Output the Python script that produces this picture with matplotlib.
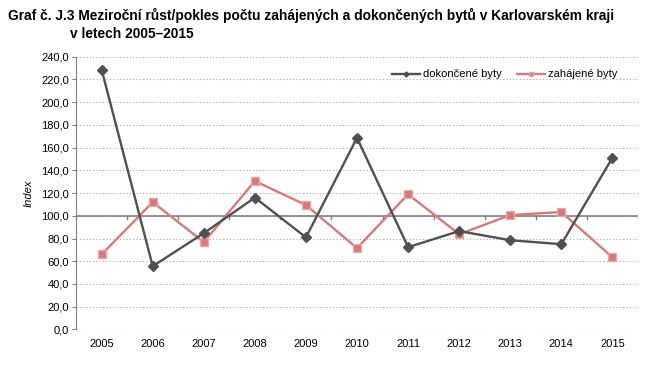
import matplotlib.pyplot as plt
from matplotlib.ticker import FuncFormatter

# Data
roky = ['2005', '2006', '2007', '2008', '2009', '2010',
        '2011', '2012', '2013', '2014', '2015']
dokoncene = [228.6, 55.6, 84.7, 116.0, 81.0, 168.6, 72.4, 86.5, 78.5, 75.0, 151.0]
zahajene = [66.0, 112.0, 76.8, 130.6, 109.4, 71.5, 119.0, 83.8, 100.6, 103.3, 63.5]

plt.rcParams['font.family'] = ['Liberation Sans', 'DejaVu Sans']

fig = plt.figure(figsize=(6.45, 3.66), dpi=100)
ax = fig.add_axes([0.118, 0.100, 0.871, 0.745])

x = list(range(len(roky)))
ax.plot(x, dokoncene, color='#505050', lw=1.7, marker='D', ms=5,
        label='dokončené byty', zorder=4)
ax.plot(x, zahajene, color='#d57a78', lw=1.7, marker='s', ms=6,
        markeredgecolor='#e8aaa8', markeredgewidth=1, label='zahájené byty', zorder=3)

ax.set_xlim(-0.5, 10.5)
ax.set_ylim(0, 240)
ax.set_yticks(range(0, 241, 20))
ax.yaxis.set_major_formatter(FuncFormatter(lambda v, p: f'{v:.1f}'.replace('.', ',')))
ax.grid(axis='y', color='#a6a6a6', ls=(0, (1, 2)), lw=0.8)
ax.set_axisbelow(True)

for s in ['top', 'right', 'bottom']:
    ax.spines[s].set_visible(False)
ax.spines['left'].set_color('#808080')

# vodorovna osa na 100 s carkami mezi kategoriemi
ax.axhline(100, color='#808080', lw=1.2, zorder=2)
for b in range(len(roky) + 1):
    ax.plot([b - 0.5, b - 0.5], [100, 97], color='#808080', lw=1.0, zorder=2)

ax.set_xticks(x)
ax.set_xticklabels(roky, fontsize=8)
ax.tick_params(axis='x', length=0, pad=7)
ax.tick_params(axis='y', labelsize=8, length=3, color='#808080', pad=2)

ax.set_ylabel('Index', fontsize=8, style='italic', labelpad=6)

ax.legend(loc='upper right', bbox_to_anchor=(0.982, 0.99), ncol=2, frameon=False,
          fontsize=8, handlelength=2.5, columnspacing=1.4, handletextpad=0.3,
          markerscale=0.5)

fig.text(0.012, 0.945, 'Graf č. J.3 Meziroční růst/pokles počtu zahájených a dokončených bytů v Karlovarském kraji',
         fontsize=9.9, fontweight='bold')
fig.text(0.108, 0.895, 'v letech 2005–2015',
         fontsize=9.9, fontweight='bold')

fig.savefig('out.png', dpi=100)
